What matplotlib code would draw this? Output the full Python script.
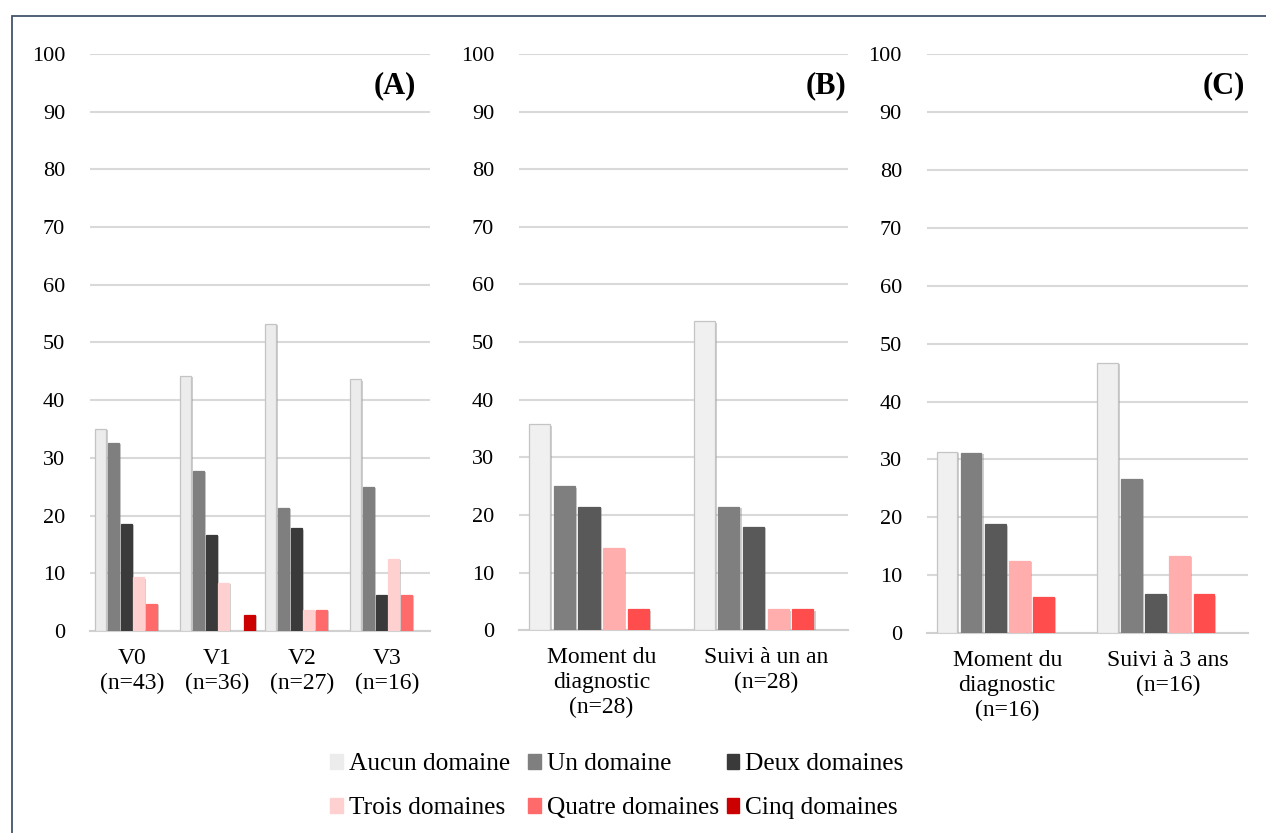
import matplotlib
matplotlib.use("Agg")
import matplotlib.pyplot as plt
import matplotlib.patches as mpatches
import matplotlib.patheffects as pe
import numpy as np

plt.rcParams['font.family'] = ['Liberation Serif', 'DejaVu Serif']

series = ['Aucun domaine', 'Un domaine', 'Deux domaines',
          'Trois domaines', 'Quatre domaines', 'Cinq domaines']

# panel A
a_labels = ['V0\n(n=43)', 'V1\n(n=36)', 'V2\n(n=27)', 'V3\n(n=16)']
a_aucun = [35.0, 44.2, 53.2, 43.6]
a_un = [32.6, 27.8, 21.4, 25.0]
a_deux = [18.6, 16.7, 17.8, 6.3]
a_trois = [9.3, 8.3, 3.7, 12.5]
a_quatre = [4.7, 0, 3.7, 6.3]
a_cinq = [0, 2.8, 0, 0]

# panel B
b_labels = ['Moment du\ndiagnostic\n(n=28)', 'Suivi à un an\n(n=28)']
b_aucun = [35.7, 53.6]
b_un = [25.0, 21.4]
b_deux = [21.4, 17.9]
b_trois = [14.3, 3.6]
b_quatre = [3.6, 3.6]
b_cinq = [0, 0]

# panel C
c_labels = ['Moment du\ndiagnostic\n(n=16)', 'Suivi à 3 ans\n(n=16)']
c_aucun = [31.3, 46.7]
c_un = [31.1, 26.7]
c_deux = [18.8, 6.7]
c_trois = [12.5, 13.3]
c_quatre = [6.3, 6.7]
c_cinq = [0, 0]

colors_a = ['#ececec', '#7f7f7f', '#3a3a3a', '#ffd0d0', '#ff6b6b', '#cc0000']
colors_bc = ['#f0f0f0', '#7f7f7f', '#595959', '#ffadad', '#ff4d4d', '#cc0000']

fig = plt.figure(figsize=(12.66, 8.33), dpi=100)


def draw_panel(rect, labels, data, colors, letter, letter_x):
    ax = fig.add_axes(rect)
    x = np.arange(len(labels))
    slot = 0.15
    for k, vals in enumerate(data):
        bars = ax.bar(x + (k - 2.5) * slot, vals, width=slot * 0.86,
                      color=colors[k], edgecolor='#c4c4c4' if k == 0 else colors[k],
                      linewidth=0.9, zorder=3)
        for b in bars:
            if b.get_height() == 0:
                b.set_visible(False)
                continue
            b.set_path_effects([pe.SimplePatchShadow(offset=(1.5, -1), shadow_rgbFace='#888888', alpha=0.4),
                                pe.Normal()])
    ax.set_ylim(0, 100)
    ax.set_xlim(-0.5, len(labels) - 0.5)
    ax.set_yticks(range(0, 101, 10))
    ax.yaxis.grid(True, color='#d9d9d9', linewidth=1.5, zorder=0)
    ax.set_axisbelow(True)
    for s in ['top', 'right', 'left']:
        ax.spines[s].set_visible(False)
    ax.spines['bottom'].set_color('#d0d0d0')
    ax.spines['bottom'].set_linewidth(1.5)
    ax.tick_params(axis='both', length=0)
    ax.tick_params(axis='y', pad=18, labelsize=16)
    ax.tick_params(axis='x', pad=12, labelsize=17)
    ax.set_xticks(x)
    ax.set_xticklabels(labels, multialignment='center', linespacing=1.25)
    ax.text(letter_x, 0.945, letter, transform=ax.transAxes, ha='right', va='center',
            fontsize=22, fontweight='bold')
    return ax


draw_panel([0.0711, 0.2425, 0.2686, 0.6927], a_labels,
           [a_aucun, a_un, a_deux, a_trois, a_quatre, a_cinq], colors_a, '(A)', 0.96)
draw_panel([0.4100, 0.2435, 0.2599, 0.6917], b_labels,
           [b_aucun, b_un, b_deux, b_trois, b_quatre, b_cinq], colors_bc, '(B)', 0.995)
draw_panel([0.7322, 0.2400, 0.2536, 0.6950], c_labels,
           [c_aucun, c_un, c_deux, c_trois, c_quatre, c_cinq], colors_bc, '(C)', 0.99)

# legend: three equal-width columns of two rows
handles = [mpatches.Patch(color=c, label=s) for c, s in zip(colors_a, series)]
col_x = [0.2607, 0.417, 0.574]
for j in range(3):
    pair = [handles[j], handles[j + 3]]
    fig.legend(pair, [h.get_label() for h in pair], loc='upper left',
               bbox_to_anchor=(col_x[j], 0.0955), ncol=1, frameon=False,
               fontsize=18.3, handlelength=0.5, handleheight=0.5,
               handletextpad=0.24, labelspacing=0.86, borderpad=0, borderaxespad=0)

# outer border
fig.add_artist(mpatches.Rectangle((0.0095, -0.02), 1.0, 1.0010, transform=fig.transFigure,
                                  fill=False, edgecolor='#44546a', linewidth=1.3))

fig.savefig('out.png', dpi=100)
